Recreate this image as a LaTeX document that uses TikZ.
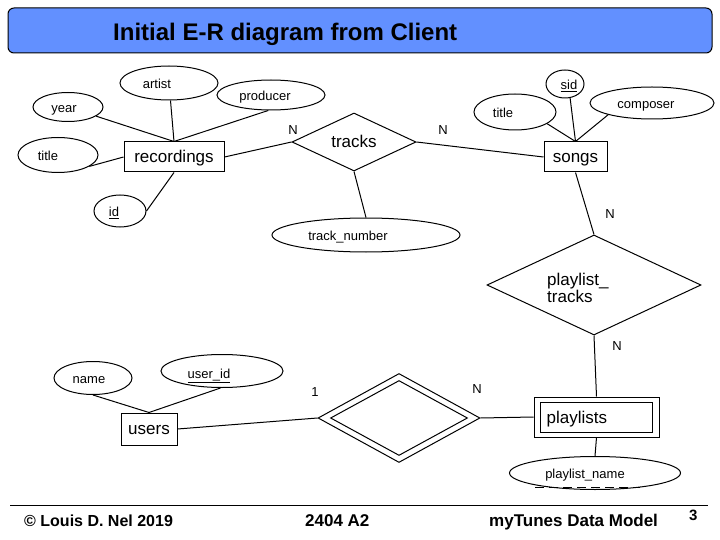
\documentclass[tikz,border=0pt]{standalone}
\usepackage{fontspec}
\setmainfont{Liberation Sans}
\usetikzlibrary{shapes.geometric}
\definecolor{barblue}{RGB}{98,144,255}
\begin{document}
\begin{tikzpicture}[x=1pt,y=-1pt,
  txt/.style={inner sep=0pt, text height=1.08em, text depth=0pt},
  captxt/.style={inner sep=0pt, text height=0.72em, text depth=0pt},
  ent/.style={draw, rectangle, line width=1pt, inner sep=0pt, text height=1.08em, text depth=0pt, font=\fontsize{17}{20}\selectfont},
  attr/.style={draw, ellipse, line width=1pt, inner sep=0pt},
  atxt/.style={txt, font=\fontsize{13}{15}\selectfont},
  rel/.style={draw, diamond, line width=1pt, inner sep=0pt},
  conn/.style={line width=1pt},
  card/.style={captxt, font=\fontsize{13}{15}\selectfont},
  foot/.style={captxt, font=\bfseries\fontsize{17}{20}\selectfont, anchor=west}
]
\useasboundingbox (0,0) rectangle (720,540);

% title bar
\node[draw, rounded corners=6pt, fill=barblue, line width=1pt, minimum width=704, minimum height=45, inner sep=0pt] (bar) at (360,30.5) {};
\node[anchor=base west, inner sep=0pt, font=\bfseries\fontsize{24}{28}\selectfont] (ttl) at (113,40.5) {Initial E-R diagram from Client};

% entities
\node[ent, minimum width=100, minimum height=30] (rec) at (174,157) {recordings};
\node[ent, minimum width=63, minimum height=30] (songs) at (575.5,157) {songs};
\node[ent, minimum width=56, minimum height=32] (users) at (149,429) {users};
\node[ent, minimum width=125, minimum height=40] (pl) at (596.5,417) {};
\node[ent, minimum width=112, minimum height=30] (pli) at (pl.center) {};
\node[txt, anchor=west, font=\fontsize{17}{20}\selectfont] (plT) at (546.5,418) {playlists};

% relationships
\node[rel, minimum width=124, minimum height=58, label={[txt, font=\fontsize{17}{20}\selectfont]center:tracks}] (tracks) at (354,142) {};
\node[rel, minimum width=214, minimum height=100] (pt) at (594,285) {};
\node[inner sep=0pt, anchor=west, align=left, font=\fontsize{17}{17.5}\selectfont] (ptT) at (547,288) {playlist\_\\tracks};
\node[rel, minimum width=162, minimum height=89] (dd) at (399,418) {};
\node[rel, minimum width=137, minimum height=75] (ddi) at (dd.center) {};

% attributes
\node[attr, minimum width=70, minimum height=29, label={[atxt, xshift=-4pt]center:year}] (year) at (68,107) {};
\node[attr, minimum width=98, minimum height=34, label={[atxt, xshift=-12pt]center:artist}] (artist) at (169,83) {};
\node[attr, minimum width=108, minimum height=30, label={[atxt, xshift=-6pt]center:producer}] (producer) at (271,95) {};
\node[attr, minimum width=80, minimum height=35, label={[atxt, xshift=-10pt]center:title}] (title1) at (58,155) {};
\node[attr, minimum width=52, minimum height=32, label={[atxt, xshift=-6pt]center:\underline{id}}] (id) at (120,211) {};
\node[attr, minimum width=188, minimum height=34, label={[atxt, xshift=-18pt]center:track\_number}] (tracknum) at (366,235) {};
\node[attr, minimum width=82, minimum height=36, label={[atxt, xshift=-12pt]center:title}] (stitle) at (515,112) {};
\node[attr, minimum width=38, minimum height=28, label={[atxt, xshift=4pt]center:\underline{sid}}] (sid) at (565,84) {};
\node[attr, minimum width=124, minimum height=32, label={[atxt, xshift=-6pt]center:composer}] (composer) at (652,103) {};
\node[attr, minimum width=78, minimum height=33, label={[atxt, xshift=-4pt]center:name}] (name) at (93,378) {};
\node[attr, minimum width=122, minimum height=33, label={[atxt, xshift=-13pt, yshift=-2pt]center:\underline{user\_id}}] (userid) at (222,371) {};
\node[attr, minimum width=171, minimum height=33, label={[atxt, xshift=-10pt]center:playlist\_name}] (pname) at (595,473) {};
\draw[line width=1.8pt, dash pattern=on 9pt off 5pt] ([xshift=-60pt, yshift=-14.5pt]pname.center) coordinate (pk1) -- ([xshift=45pt, yshift=-14.5pt]pname.center) coordinate (pk2);

% connectors
\draw[conn] (year) -- (rec.north);
\draw[conn] (artist) -- (rec.north);
\draw[conn] (producer.-100) -- (rec.north);
\draw[conn] (title1.-20) -- (rec.west);
\draw[conn] (id.east) -- (rec.south);
\draw[conn] (rec.east) -- (tracks.west);
\draw[conn] (tracks.east) -- (songs.west);
\draw[conn] (tracks.south) -- (tracknum.north);
\draw[conn] (stitle.-20) -- (songs.north);
\draw[conn] (sid.-70) -- (songs.north);
\draw[conn] (composer.-165) -- (songs.north);
\draw[conn] (songs.south) -- (pt.north);
\draw[conn] (pt.south) -- (pl.north);
\draw[conn] (pl.south) -- (pname.north);
\draw[conn] (users.east) -- (dd.west);
\draw[conn] (dd.east) -- (pl.west);
\draw[conn] (name.south) -- (users.north);
\draw[conn] (userid.-95) -- (users.north);

% cardinalities
\node[card] (c1) at (293,131) {N};
\node[card] (c2) at (443,131) {N};
\node[card] (c3) at (610,215) {N};
\node[card] (c4) at (617,347) {N};
\node[card] (c5) at (315,393) {1};
\node[card] (c6) at (477,390) {N};

% footer
\coordinate (fl) at (10,505);
\coordinate (fr) at (708,505);
\draw[line width=1pt] (fl) -- (fr);
\node[foot, font=\bfseries\fontsize{16}{20}\selectfont] (f1) at (24,523) {© Louis D. Nel 2019};
\node[foot] (f2) at (305,523) {2404 A2};
\node[foot] (f3) at (489,523) {myTunes Data Model};
\node[foot, font=\bfseries\fontsize{15}{18}\selectfont] (f4) at (689,517) {3};
\end{tikzpicture}
\end{document}
